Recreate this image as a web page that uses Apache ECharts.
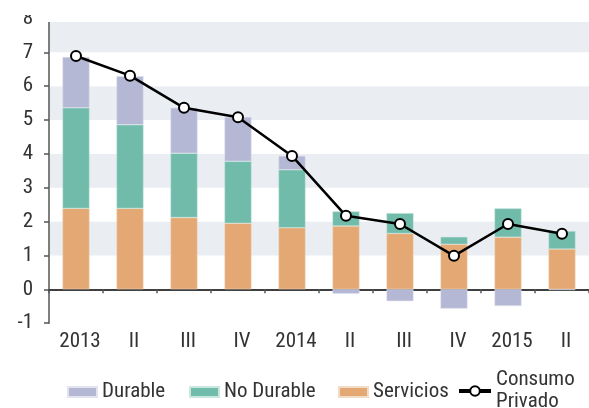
<!DOCTYPE html>
<html>
<head>
<meta charset="utf-8">
<script src="https://cdn.jsdelivr.net/npm/echarts@6/dist/echarts.min.js"></script>
<style>
  html, body { margin: 0; padding: 0; background: #fff; }
  #chart { width: 589px; height: 408px; }
</style>
</head>
<body>
<div id="chart"></div>
<script>
// trimestres
const categories = ['2013', 'II', 'III', 'IV', '2014', 'II', 'III', 'IV', '2015', 'II']
const servicios = [2.39, 2.39, 2.12, 1.95, 1.82, 1.87, 1.65, 1.33, 1.54, 1.19]
const noDurable = [2.97, 2.47, 1.90, 1.83, 1.71, 0.43, 0.60, 0.22, 0.85, 0.53]
const durable = [1.50, 1.43, 1.34, 1.31, 0.41, -0.13, -0.35, -0.57, -0.49, -0.02]
const consumoPrivado = [6.89, 6.31, 5.36, 5.08, 3.94, 2.17, 1.93, 0.99, 1.93, 1.64]
const yTicks = { min: -1, max: 8, step: 1 }

const font = '"Roboto Condensed", "DejaVu Sans Condensed", sans-serif'
const band = '#eaedf1'
const txt = '#333'

// una leyenda por elemento, para colocarlas como en el original
const legendItem = (name, left, top) => ({
  left: left,
  top: top,
  itemWidth: 29,
  itemHeight: 10,
  itemGap: 0,
  icon: name === 'Consumo Privado' ? undefined : 'rect',
  data: [name],
  formatter: n => (n === 'Consumo Privado' ? 'Consumo\nPrivado' : n),
  textStyle: { fontFamily: font, fontSize: 21, color: txt, lineHeight: 22 }
})

const chart = echarts.init(document.getElementById('chart'))
chart.setOption({
  animation: false,
  textStyle: { fontFamily: font },
  grid: { left: 49, right: -12, top: 18.4, bottom: 84.8, containLabel: false },
  legend: [
    legendItem('Durable', 62, 376),
    legendItem('No Durable', 184, 376),
    legendItem('Servicios', 333, 376),
    Object.assign(legendItem('Consumo Privado', 452, 364), {
      itemWidth: 32, itemHeight: 12, lineStyle: { width: 4 }
    })
  ],
  xAxis: {
    type: 'category',
    data: categories,
    axisLine: { onZero: true, lineStyle: { color: '#000', width: 1.5 } },
    axisTick: { show: true, length: 4, lineStyle: { color: '#555', width: 1.5 } },
    axisLabel: { interval: 0, margin: 8, fontSize: 21, color: txt, fontFamily: font, padding: [0, 0, 0, 8] }
  },
  yAxis: {
    type: 'value',
    min: yTicks.min,
    max: yTicks.max,
    interval: yTicks.step,
    axisLine: { show: true, lineStyle: { color: '#555', width: 1.5 } },
    axisTick: { show: true, length: 5, lineStyle: { color: '#555', width: 1.5 } },
    axisLabel: { margin: 16, fontSize: 21, color: txt, fontFamily: font },
    splitLine: { show: false },
    splitArea: {
      show: true,
      areaStyle: { color: ['#fff', '#fff', band, '#fff', band, '#fff', band, '#fff', band] }
    }
  },
  graphic: [
    { type: 'rect', z: 100, shape: { x: 0, y: 0, width: 589, height: 15 }, style: { fill: '#fff' } },
    { type: 'rect', z: 100, shape: { x: 44, y: 0, width: 545, height: 22 }, style: { fill: '#fff' } }
  ],
  series: [
    {
      name: 'Servicios', type: 'bar', stack: 'c', barWidth: '50%',
      itemStyle: { color: '#e3a873', borderColor: '#f3dcc6', borderWidth: 0.5 },
      data: servicios
    },
    {
      name: 'No Durable', type: 'bar', stack: 'c',
      itemStyle: { color: '#70bbaa', borderColor: '#c9e6df', borderWidth: 0.5 },
      data: noDurable
    },
    {
      name: 'Durable', type: 'bar', stack: 'c',
      itemStyle: { color: '#b4b8d5', borderColor: '#e1e3ef', borderWidth: 0.5 },
      data: durable
    },
    {
      name: 'Consumo Privado', type: 'line',
      symbol: 'circle', symbolSize: 10,
      lineStyle: { color: '#000', width: 2.5 },
      itemStyle: { color: '#fff', borderColor: '#000', borderWidth: 2 },
      z: 5,
      data: consumoPrivado
    }
  ]
})
</script>
</body>
</html>
